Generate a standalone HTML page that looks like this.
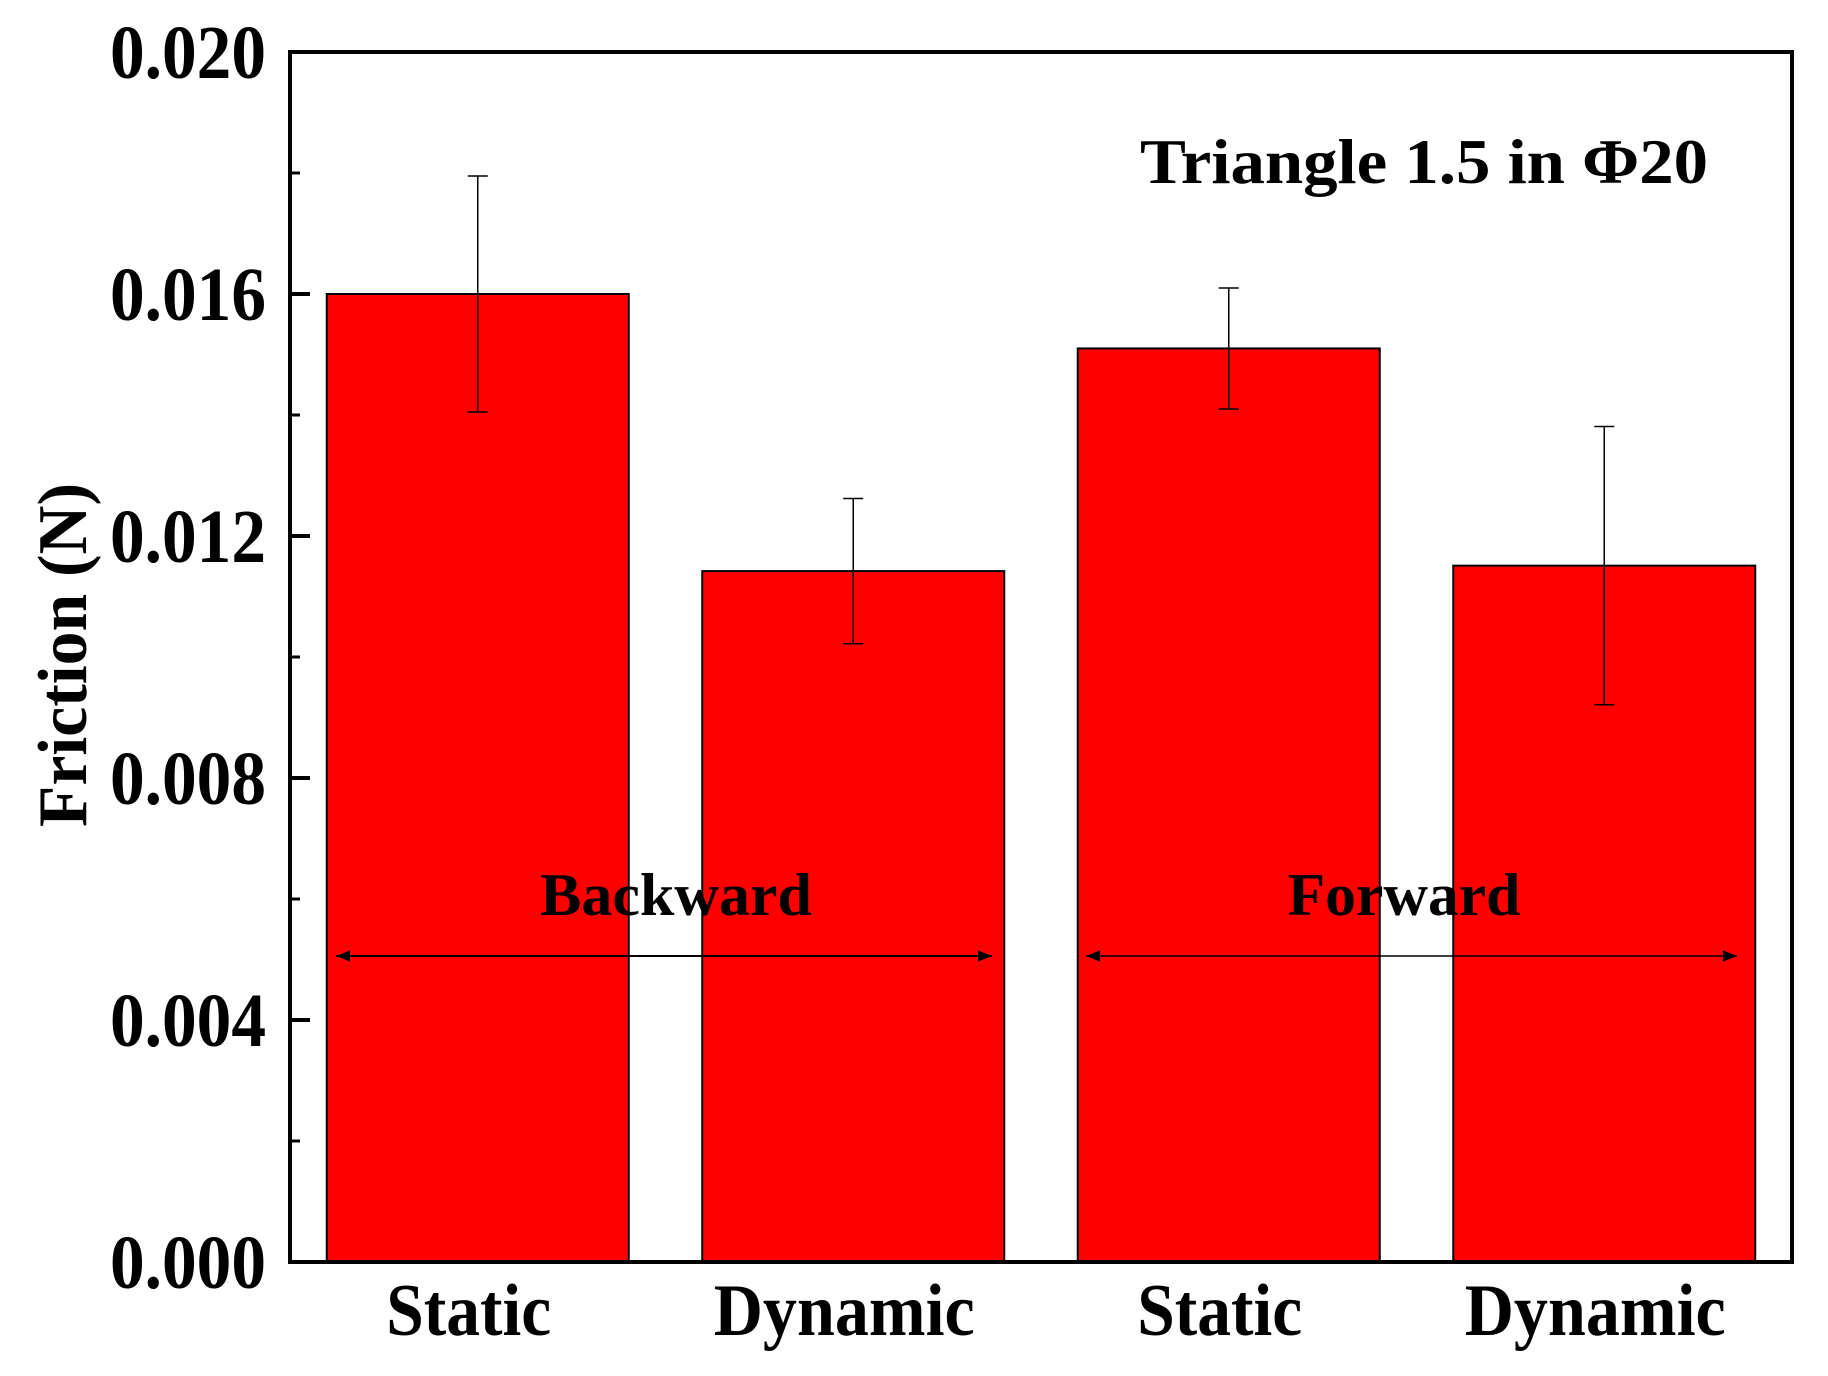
<!DOCTYPE html>
<html><head><meta charset="utf-8"><style>
html,body{margin:0;padding:0;background:#fff;}
svg{display:block;}
text{font-family:"Liberation Serif",serif;font-weight:bold;fill:#000;}
</style></head><body>
<svg id="chart" width="1828" height="1376" viewBox="0 0 1828 1376" xmlns="http://www.w3.org/2000/svg">
<defs>
<marker id="ah" viewBox="0 0 10 10" refX="10" refY="5" markerWidth="30" markerHeight="14" markerUnits="userSpaceOnUse" orient="auto-start-reverse"><path d="M0,1 L10,5 L0,9 z" fill="#000"/></marker>
</defs>
<g id="plot"></g>
</svg>
<script>
const categories = ["Static","Dynamic","Static","Dynamic"];
const values = [0.0160, 0.01142, 0.01510, 0.01151];
const errors = [0.00195, 0.00120, 0.00100, 0.00230];
const yTicks = [0, 0.004, 0.008, 0.012, 0.016, 0.020];
const yTickLabels = ["0.000","0.004","0.008","0.012","0.016","0.020"];
const minorTicks = [0.002, 0.006, 0.010, 0.014, 0.018];

const L=290,R=1792,T=52,B=1262,YMAX=0.020;
const NS="http://www.w3.org/2000/svg";
const g=document.getElementById('plot');
function y(v){return B-(B-T)*v/YMAX;}
const band=(R-L)/categories.length;
function xc(i){return L+(i+0.5)*band;}
const bw=302;
function mk(tag,attrs,parent){const e=document.createElementNS(NS,tag);for(const k in attrs)e.setAttribute(k,attrs[k]);(parent||g).appendChild(e);return e;}

values.forEach((v,i)=>{
  const r=mk('rect',{x:xc(i)-bw/2,y:y(v),width:bw,height:B-y(v),fill:'#ff0000',stroke:'#000','stroke-width':2});
  
  
  const e=errors[i];
  const eg=mk('g',{stroke:'#000','stroke-width':1.5});
  
  
  mk('line',{x1:xc(i),x2:xc(i),y1:y(v+e),y2:y(v-e)},eg);
  mk('line',{x1:xc(i)-10,x2:xc(i)+10,y1:y(v+e),y2:y(v+e)},eg);
  mk('line',{x1:xc(i)-10,x2:xc(i)+10,y1:y(v-e),y2:y(v-e)},eg);
  const t=mk('text',{x:xc(i)-9,y:1335,'text-anchor':'middle','font-size':74,textLength:categories[i]==='Static'?165:261,lengthAdjust:'spacingAndGlyphs'});
  t.textContent=categories[i];
  
  
});

const fr=mk('rect',{x:L,y:T,width:R-L,height:B-T,fill:'none',stroke:'#000','stroke-width':4});



yTicks.forEach((v,i)=>{
  const tk=mk('line',{x1:L,x2:L+20,y1:y(v),y2:y(v),stroke:'#000','stroke-width':4});
  
  
  const t=mk('text',{x:266,y:y(v)+26,'text-anchor':'end','font-size':76,textLength:156,lengthAdjust:'spacingAndGlyphs'});
  t.textContent=yTickLabels[i];
  
  
});
minorTicks.forEach(v=>{
  const tk=mk('line',{x1:L,x2:L+10,y1:y(v),y2:y(v),stroke:'#000','stroke-width':3});
  
  
});

const yl=mk('text',{x:0,y:0,transform:'translate(86,655) rotate(-90)','text-anchor':'middle','font-size':70,textLength:344,lengthAdjust:'spacingAndGlyphs'});
yl.textContent='Friction (N)';



const ti=mk('text',{x:1140,y:183,'font-size':64,textLength:568,lengthAdjust:'spacingAndGlyphs'});
ti.textContent='Triangle 1.5 in Φ20';



const bk=mk('text',{x:676,y:915,'text-anchor':'middle','font-size':60,textLength:272,lengthAdjust:'spacingAndGlyphs'});
bk.textContent='Backward';


const fw=mk('text',{x:1404,y:915,'text-anchor':'middle','font-size':60,textLength:233,lengthAdjust:'spacingAndGlyphs'});
fw.textContent='Forward';



const a1=mk('line',{x1:336,x2:992,y1:956,y2:956,stroke:'#000','stroke-width':2,'marker-start':'url(#ah)','marker-end':'url(#ah)'});


const a2=mk('line',{x1:1086,x2:1737,y1:956,y2:956,stroke:'#000','stroke-width':1.5,'marker-start':'url(#ah)','marker-end':'url(#ah)'});


</script>
</body></html>
